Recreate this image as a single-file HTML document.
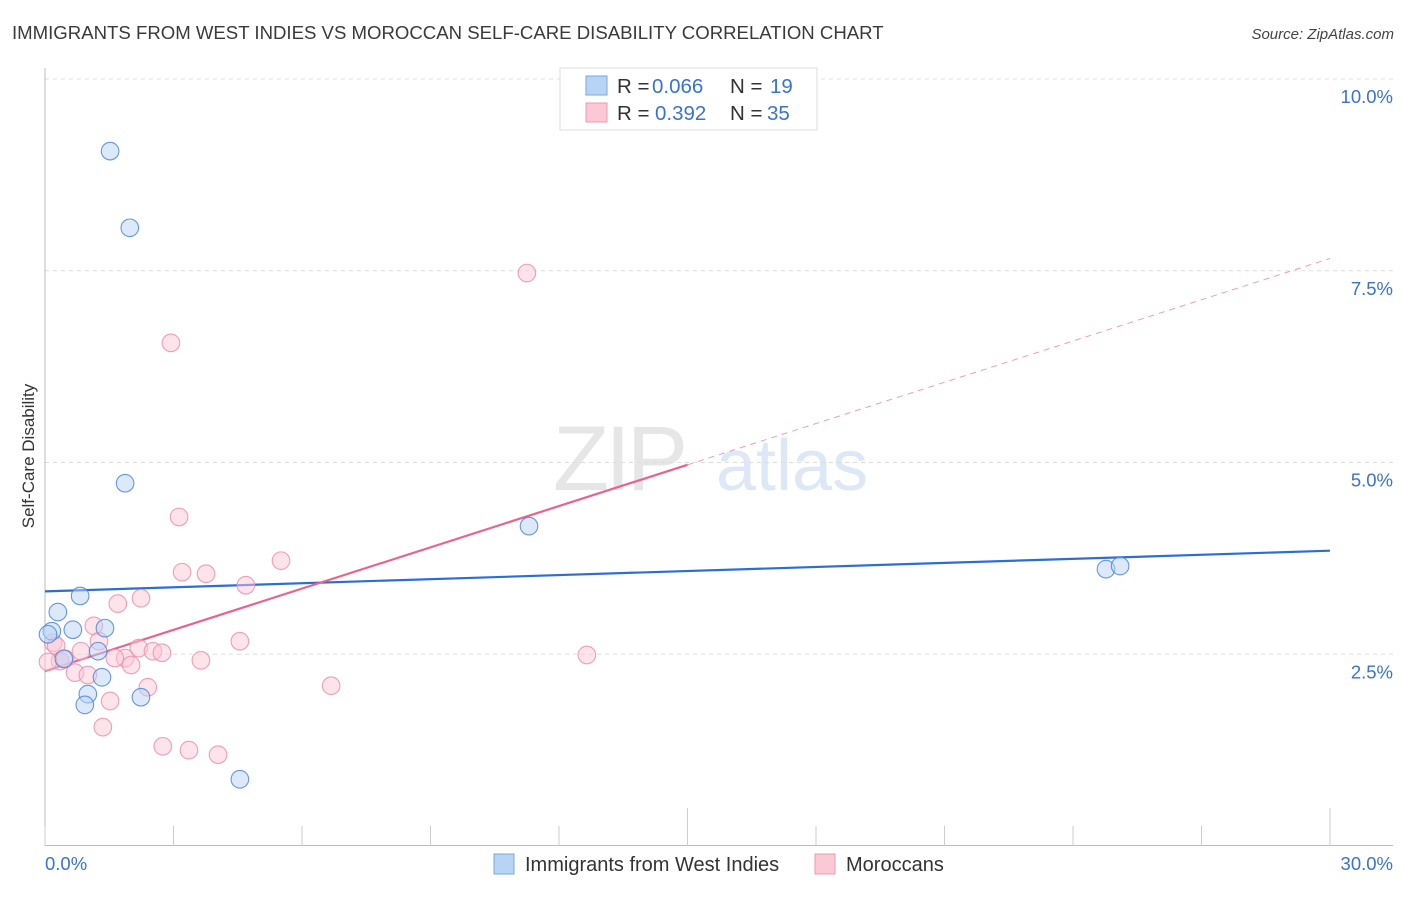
<!DOCTYPE html>
<html><head><meta charset="utf-8"><style>
body{margin:0;background:#fff;font-family:"Liberation Sans",sans-serif;}
svg text{font-family:"Liberation Sans",sans-serif;}
</style></head><body>
<svg id="chart" width="1406" height="892" viewBox="0 0 1406 892" xmlns="http://www.w3.org/2000/svg">
<text x="12" y="39" font-size="18.6" fill="#3a3a3a">IMMIGRANTS FROM WEST INDIES VS MOROCCAN SELF-CARE DISABILITY CORRELATION CHART</text>
<text x="1394" y="39" font-size="15" fill="#444" font-style="italic" text-anchor="end">Source: ZipAtlas.com</text>
<g>
<text x="553" y="490" font-size="92" fill="#e6e6e6" font-family="Liberation Serif" letter-spacing="-4">ZIP</text>
<text x="716" y="490" font-size="72" fill="#dde8f6">atlas</text>
</g>
<g id="grid"></g>
<g id="axes"></g>
<text transform="translate(34,456) rotate(-90)" font-size="17" fill="#333" text-anchor="middle">Self-Care Disability</text>
<g id="lines"></g>
<g id="points"></g>
<g>
<rect x="560" y="68" width="257" height="62" fill="#fff" stroke="#ddd"/>
<rect x="586" y="76" width="21" height="19" fill="#b8d4f5" stroke="#7aa8e0"/>
<rect x="586" y="103" width="21" height="19" fill="#fbc8d6" stroke="#ee9ab3"/>
<text x="617" y="93" font-size="20.5" fill="#333">R = <tspan fill="#3a72d0" x="652">0.066</tspan><tspan x="730">N = </tspan><tspan fill="#3a72d0" x="770">19</tspan></text>
<text x="617" y="120" font-size="20.5" fill="#333">R = <tspan fill="#3a72d0" x="655">0.392</tspan><tspan x="730">N = </tspan><tspan fill="#3a72d0" x="767">35</tspan></text>
</g>
<g>
<rect x="494" y="854" width="20" height="20" fill="#b8d4f5" stroke="#7aa8e0"/>
<text x="525" y="871" font-size="20" fill="#333">Immigrants from West Indies</text>
<rect x="815" y="854" width="20" height="20" fill="#fbc8d6" stroke="#ee9ab3"/>
<text x="846" y="871" font-size="20" fill="#333">Moroccans</text>
</g>
</svg>
<script>
const blueX=[1.52,1.98,1.87,11.30,24.77,25.10,0.82,0.30,0.16,0.65,1.40,0.07,1.24,0.44,1.33,1.00,0.93,2.24,4.55];
const blueY=[9.06,8.06,4.73,4.17,3.61,3.65,3.26,3.05,2.80,2.82,2.84,2.76,2.54,2.44,2.20,1.98,1.84,1.94,0.87];
const pinkX=[11.25,2.94,3.13,3.20,3.76,5.51,4.69,2.24,1.70,1.14,0.19,0.26,1.26,0.84,2.19,2.52,2.73,1.87,1.63,3.64,2.01,4.55,12.65,0.35,0.47,0.70,1.00,2.40,6.68,1.52,1.35,2.75,3.36,4.04,0.07];
const pinkY=[7.47,6.56,4.29,3.57,3.55,3.72,3.40,3.23,3.16,2.87,2.65,2.61,2.67,2.54,2.58,2.54,2.52,2.45,2.45,2.42,2.36,2.67,2.49,2.41,2.44,2.26,2.23,2.07,2.09,1.89,1.55,1.30,1.25,1.19,2.40];
const blueTrend=[3.32,3.85];
const pinkTrend=[2.28,7.66];
const yTicks=[2.5,5.0,7.5,10.0];
const yTickLabels=["2.5%","5.0%","7.5%","10.0%"];
const xTicks=[0,3,6,9,12,15,18,21,24,27,30];
const NS="http://www.w3.org/2000/svg";
const X=v=>45+v/30*1285;
const Y=v=>846-v*76.7;
function mk(tag,attrs,parent){const e=document.createElementNS(NS,tag);for(const k in attrs)e.setAttribute(k,attrs[k]);document.getElementById(parent).appendChild(e);return e;}
yTicks.forEach((t,i)=>{
  const l=mk('line',{x1:45,x2:1393,y1:Y(t),y2:Y(t),stroke:'#ddd','stroke-dasharray':'4,4'},'grid');
  
  
  const tx=mk('text',{x:1393,y:Y(t)+24,'font-size':18.5,fill:'#3a72d0','text-anchor':'end'},'grid');
  tx.textContent=yTickLabels[i];
  
  
});
mk('line',{x1:45,x2:45,y1:68,y2:846,stroke:'#bbb'},'axes');
mk('line',{x1:45,x2:1393,y1:845.5,y2:845.5,stroke:'#bbb'},'axes');
xTicks.forEach(t=>{
  const long=(t===15||t===30);
  const l=mk('line',{x1:X(t),x2:X(t),y1:long?808:826,y2:846,stroke:'#ccc'},'axes');
  
  
});
const x0=mk('text',{x:45,y:870,'font-size':18.5,fill:'#3a72d0'},'axes');x0.textContent="0.0%";


const x1=mk('text',{x:1393,y:870,'font-size':18.5,fill:'#3a72d0','text-anchor':'end'},'axes');x1.textContent="30.0%";


function draw(xs,ys,fill,stroke,name){
  xs.forEach((x,i)=>{
    const c=mk('circle',{cx:X(x),cy:Y(ys[i]),r:8.8,fill:fill,'fill-opacity':0.5,stroke:stroke,'stroke-width':1.1,'stroke-opacity':0.85},'points');
    
    
  });
}
draw(pinkX,pinkY,'#fbc8d6','#ec8fab','moroccan-point');
draw(blueX,blueY,'#b8d4f5','#4f86d8','west-indies-point');
let b=mk('line',{x1:X(0),y1:Y(blueTrend[0]),x2:X(30),y2:Y(blueTrend[1]),stroke:'#2b6fd6','stroke-width':2.2},'lines');


const pm=pinkTrend[0]+(pinkTrend[1]-pinkTrend[0])*0.5;
let p=mk('line',{x1:X(0),y1:Y(pinkTrend[0]),x2:X(15),y2:Y(pm),stroke:'#e8648f','stroke-width':2.2},'lines');


let pd=mk('line',{x1:X(15),y1:Y(pm),x2:X(30),y2:Y(pinkTrend[1]),stroke:'#e8a0b6','stroke-width':1,'stroke-dasharray':'6,5'},'lines');


</script>
</body></html>
